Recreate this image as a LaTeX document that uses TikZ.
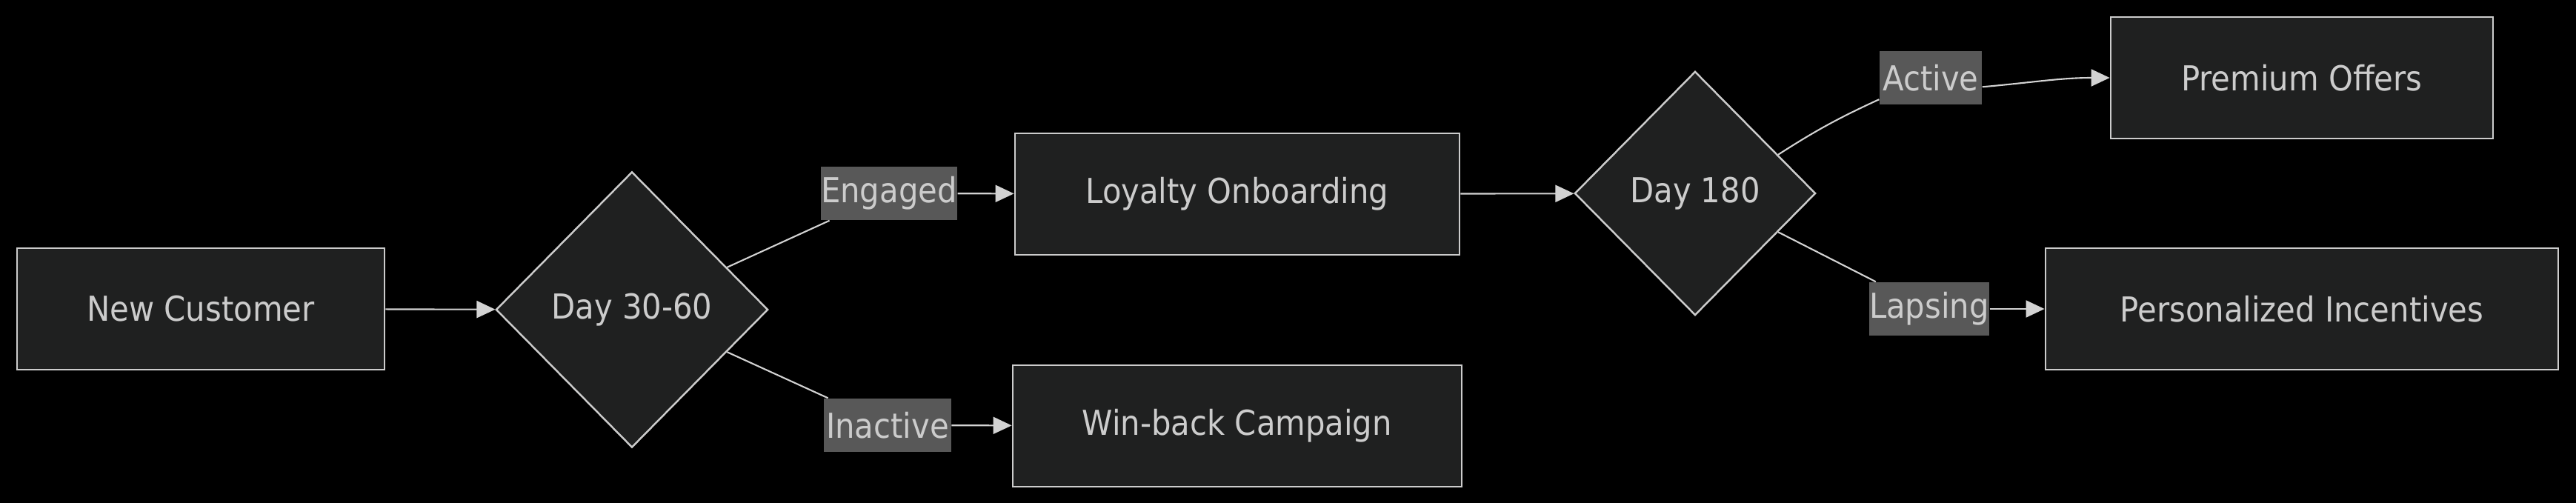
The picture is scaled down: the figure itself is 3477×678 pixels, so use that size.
\documentclass[tikz,border=0pt]{standalone}
\usepackage{fontspec}
\setmainfont{DejaVu Sans Condensed}
\usetikzlibrary{shapes.geometric,arrows.meta}
\definecolor{nodefill}{HTML}{1F2020}
\definecolor{nodestroke}{HTML}{CCCCCC}
\definecolor{txt}{HTML}{CCCCCC}
\definecolor{lbl}{HTML}{585858}
\definecolor{edgecol}{HTML}{D3D3D3}
\begin{document}
\begin{tikzpicture}[x=0.01cm,y=-0.01cm,
  font=\fontsize{13.2}{15}\selectfont,
  box/.style={draw=nodestroke, fill=nodefill, line width=0.7pt, text=txt, inner sep=0, minimum height=1.64cm},
  dec/.style={diamond, draw=nodestroke, fill=nodefill, line width=0.7pt, text=txt, inner sep=0},
  elabel/.style={fill=lbl, text=txt, inner sep=0, minimum height=0.72cm},
  link/.style={draw=edgecol, line width=0.6pt},
  arr/.style={link, -{Triangle[length=0.25cm,width=0.23cm]}}]
\useasboundingbox (0,0) rectangle (3477,678);
\fill[black] (-20,-20) rectangle (3497,698);

\node[box, minimum width=4.96cm] (nc) at (271,417) {New Customer};
\node[dec, minimum width=3.67cm, minimum height=3.72cm] (d1) at (853,418) {Day 30-60};
\node[box, minimum width=6.00cm] (lo) at (1670,262) {Loyalty Onboarding};
\node[box, minimum width=6.06cm] (wb) at (1670,575) {Win-back Campaign};
\node[dec, minimum width=3.25cm, minimum height=3.29cm] (d2) at (2288,261) {Day 180};
\node[box, minimum width=5.16cm] (po) at (3107,105) {Premium Offers};
\node[box, minimum width=6.92cm] (pi) at (3107,417) {Personalized Incentives};

\node[elabel, minimum width=1.77cm] (le) at (1200,261) {Engaged};
\node[elabel, minimum width=1.71cm] (li) at (1198,574) {Inactive};
\node[elabel, minimum width=1.38cm] (la) at (2606,105) {Active};
\node[elabel, minimum width=1.56cm] (ll) at (2604,417) {Lapsing};

\draw[arr] (nc) -- (d1);
\draw[link] (d1.24) -- (le);
\draw[arr] (le) -- (lo);
\draw[link] (d1.-24) -- (li);
\draw[arr] (li) -- (wb);
\draw[arr] (lo) -- (d2);
\draw[link] (d2.25) to[bend left=4] (la);
\draw[arr] (la.-10) to[out=5, in=180] (po.west);
\draw[link] (d2.-25) -- (ll);
\draw[arr] (ll) -- (pi);
\end{tikzpicture}
\end{document}
